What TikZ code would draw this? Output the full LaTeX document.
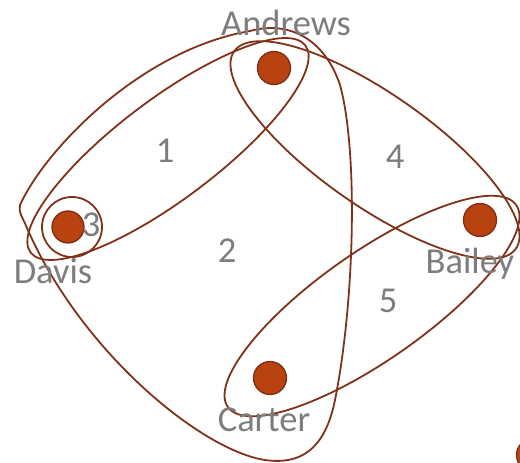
\documentclass[tikz,border=0pt]{standalone}
\usepackage{fontspec}
\setmainfont{Carlito}
\definecolor{edgebrown}{RGB}{128,50,24}
\definecolor{dotfill}{RGB}{184,66,16}
\definecolor{dotline}{RGB}{125,45,20}
\definecolor{labelgray}{RGB}{125,125,125}
\tikzset{
  hedge/.style={draw=edgebrown, line width=1.8pt},
  vdot/.style={circle, fill=dotfill, draw=dotline, line width=1.3pt, minimum size=33pt, inner sep=0pt},
  lbl/.style={text=labelgray, font=\fontsize{36.5}{40}\selectfont, anchor=base, inner sep=0pt},
}
\begin{document}
\begin{tikzpicture}[x=1pt,y=-1pt]
\useasboundingbox (0,0) rectangle (520,463);
\clip (0,0) rectangle (520,463);
% hyperedges
\draw[hedge, rotate around={37:(168,149)}] (168,149) ellipse (172 and 50);
\draw[hedge, rotate around={-35:(375,150)}] (375,150) ellipse (172 and 56);
\draw[hedge, rotate around={35:(372,306)}] (372,306) ellipse (176 and 54);
\draw[hedge] (72,227) circle (30);
\draw[hedge] (20,205) .. controls (45,150) and (140,50) .. (250,31)
  .. controls (290,20) and (325,40) .. (340,85)
  .. controls (358,150) and (355,300) .. (335,400)
  .. controls (325,450) and (300,465) .. (265,460)
  .. controls (200,450) and (80,350) .. (27,228)
  .. controls (23,218) and (18,212) .. (20,205) -- cycle;
% vertices
\node[vdot] (andrews) at (274,68) {};
\node[vdot, minimum size=32pt] (davis) at (68,227) {};
\node[vdot] (bailey) at (480,220) {};
\node[vdot] (carter) at (270,378) {};
\node[vdot] (extra) at (533,455) {};
% labels
\node[lbl] (tandrews) at (286,35) {Andrews};
\node[lbl] (tdavis) at (53,283) {Davis};
\node[lbl] (tbailey) at (470,273) {Bailey};
\node[lbl] (tcarter) at (264,431) {Carter};
\node[lbl] (e1) at (165,162) {1};
\node[lbl] (e2) at (227,262) {2};
\node[lbl] (e3) at (91,236) {3};
\node[lbl] (e4) at (395,168) {4};
\node[lbl] (e5) at (388,312) {5};
\end{tikzpicture}
\end{document}
